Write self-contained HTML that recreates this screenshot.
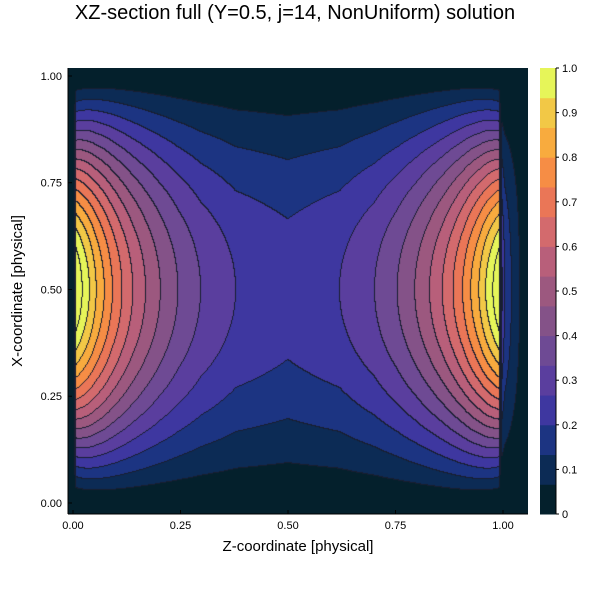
<!DOCTYPE html>
<html><head><meta charset="utf-8">
<style>
html,body{margin:0;padding:0;background:#fff;}
#wrap{position:relative;width:600px;height:600px;font-family:"Liberation Sans","DejaVu Sans",sans-serif;}
canvas{position:absolute;left:68px;top:68px;}
svg{position:absolute;left:0;top:0;}
</style></head>
<body>
<div id="wrap">
<canvas id="cv" width="460" height="446"></canvas>
<svg id="sv" width="600" height="600"></svg>
</div>
<script>
// ---- data ----
const bandColors = ["#04202c","#0c2b55","#1c3482","#3e37a0","#5a3e9e","#6e4a94","#845288","#9c587f","#b85f7a","#d36a6d","#ea7657","#f68d45","#f8ab3e","#f2c846","#e6f559"];
const levelStep = 1/15;
const zTicks = [0, 0.25, 0.5, 0.75, 1.0];
const zTickLabels = ["0.00","0.25","0.50","0.75","1.00"];
const xTicks = [0, 0.25, 0.5, 0.75, 1.0];
const xTickLabels = ["0.00","0.25","0.50","0.75","1.00"];
const cbTicks = [0,0.1,0.2,0.3,0.4,0.5,0.6,0.7,0.8,0.9,1.0];
const cbTickLabels = ["0","0.1","0.2","0.3","0.4","0.5","0.6","0.7","0.8","0.9","1.0"];
// midline (X=0.5) profile along Z
const profZ = [0.004,0.008,0.0226,0.0395,0.055,0.074,0.093,0.115,0.140,0.170,0.204,0.245,0.298,0.379,0.5];
const profV = [0.0,1.06,1.0,0.933,0.867,0.8,0.733,0.667,0.6,0.533,0.467,0.4,0.333,0.267,0.23];
// beyond Z=1
const tailZ = [0.998,1.005,1.021,1.040,1.055];
const tailV = [0.28,0.2,0.133,0.067,0.0];

// ---- axes ----
const PL=68, PR=528, PT=68, PB=514;
const zMin=-0.0116, zMax=1.0581, xMin=-0.0258, xMax=1.0187;
const sx = z => PL + (z - zMin)/(zMax - zMin)*(PR-PL);
const sy = x => PB - (x - xMin)/(xMax - xMin)*(PB-PT);
const cbY = v => PB - v*(PB-PT);

function interp(xs, vs, t){
  if(t<=xs[0]) return vs[0];
  for(let i=1;i<xs.length;i++){
    if(t<=xs[i]){const a=(t-xs[i-1])/(xs[i]-xs[i-1]);return vs[i-1]+a*(vs[i]-vs[i-1]);}
  }
  return vs[vs.length-1];
}
function H(z){
  if(z<0) return 0;
  if(z>0.998) return interp(tailZ,tailV,z);
  const zz = z>0.5 ? 1-z : z;
  return interp(profZ,profV,zz);
}
function field(z,x){
  const s=Math.sin(Math.PI*x); if(s<=0) return 0;
  const d=Math.min(Math.abs(z), Math.abs(1-z));
  const p=1+0.3*Math.exp(-d/0.04);
  return H(z)*Math.pow(s,p);
}
// ---- render field ----
const cv=document.getElementById('cv'), ctx=cv.getContext('2d');
const W=cv.width, Hh=cv.height;
const band=new Int16Array(W*Hh);
for(let j=0;j<Hh;j++){for(let i=0;i<W;i++){
  const z=zMin+(i+0.5)/W*(zMax-zMin), x=xMax-(j+0.5)/Hh*(xMax-xMin);
  band[j*W+i]=Math.floor(field(z,x)/levelStep);
}}
function hex(c){return [parseInt(c.substr(1,2),16),parseInt(c.substr(3,2),16),parseInt(c.substr(5,2),16)];}
const rgb=bandColors.map(hex);
const img=ctx.createImageData(W,Hh);
for(let j=0;j<Hh;j++){for(let i=0;i<W;i++){
  const k=j*W+i, b=band[k];
  let c=rgb[Math.min(b,rgb.length-1)];
  const r=i+1<W?band[k+1]:b, d=j+1<Hh?band[k+W]:b;
  if(b>0 && (r!==b||d!==b)) c=[24,30,48];
  else if(b===0 && ((r>0)||(d>0))) c=[24,30,48];
  img.data[4*k]=c[0];img.data[4*k+1]=c[1];img.data[4*k+2]=c[2];img.data[4*k+3]=255;
}}
ctx.putImageData(img,0,0);

// ---- SVG overlay ----
const NS="http://www.w3.org/2000/svg", sv=document.getElementById('sv');
function mk(tag,attrs,txt){const e=document.createElementNS(NS,tag);for(const k in attrs)e.setAttribute(k,attrs[k]);if(txt!==undefined)e.textContent=txt;sv.appendChild(e);return e;}
let e;
e=mk('text',{x:295,y:19,'font-size':20,'text-anchor':'middle',fill:'#000'},'XZ-section full (Y=0.5, j=14, NonUniform) solution');


e=mk('line',{x1:PL,y1:PB,x2:PR,y2:PB,stroke:'#000','stroke-width':1});


e=mk('line',{x1:PL,y1:PT,x2:PL,y2:PB,stroke:'#000','stroke-width':1});


zTicks.forEach((t,i)=>{
  const X=sx(t);
  e=mk('line',{x1:X,y1:PB,x2:X,y2:PB-4,stroke:'#000'});
  
  
  e=mk('text',{x:X,y:PB+15,'font-size':11,'text-anchor':'middle',fill:'#000'},zTickLabels[i]);
  
  
});
xTicks.forEach((t,i)=>{
  const Y=sy(t);
  e=mk('line',{x1:PL,y1:Y,x2:PL+4,y2:Y,stroke:'#000'});
  
  
  e=mk('text',{x:PL-6,y:Y+4,'font-size':11,'text-anchor':'end',fill:'#000'},xTickLabels[i]);
  
  
});
e=mk('text',{x:298,y:551,'font-size':15,'text-anchor':'middle',fill:'#000'},'Z-coordinate [physical]');


e=mk('text',{x:22,y:291,'font-size':15,'text-anchor':'middle',fill:'#000',transform:'rotate(-90 22 291)'},'X-coordinate [physical]');


// colorbar
bandColors.forEach((c,i)=>{
  const y0=cbY((i+1)*levelStep), y1=cbY(i*levelStep);
  e=mk('rect',{x:540,y:y0,width:16,height:y1-y0+0.5,fill:c});
  
  
});
e=mk('line',{x1:556,y1:PT,x2:556,y2:PB,stroke:'#000'});


cbTicks.forEach((t,i)=>{
  const Y=cbY(t);
  e=mk('line',{x1:556,y1:Y,x2:559,y2:Y,stroke:'#000'});
  
  
  e=mk('text',{x:562,y:Y+4,'font-size':11,fill:'#000'},cbTickLabels[i]);
  
  
});
</script>
</body></html>
